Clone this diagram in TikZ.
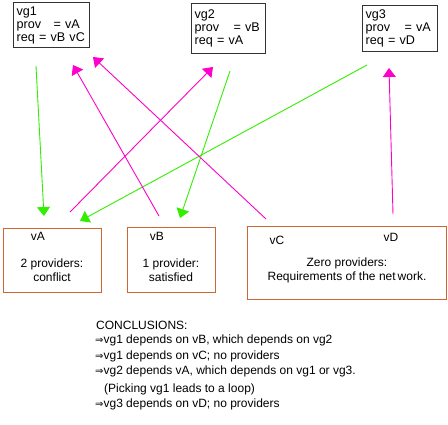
\documentclass[tikz,border=0pt]{standalone}
\usepackage{fontspec}
\setmainfont{Liberation Sans}
\newfontfamily\arrowfont{DejaVu Sans}
\usetikzlibrary{arrows.meta}
\definecolor{ProvGreen}{HTML}{33EE00}
\definecolor{ReqPink}{HTML}{FF00CC}
\definecolor{NetOrange}{HTML}{CC6633}
\newcommand{\dep}{{\arrowfont\fontsize{10}{12}\selectfont ⇒}}

\begin{document}
\begin{tikzpicture}[x=1pt, y=-1pt, >={Triangle[length=9pt, width=13pt]},
  font=\fontsize{12}{13}\selectfont,
  groupbox/.style={draw=black!80, line width=1.2pt, anchor=north west,
    align=left, inner xsep=3pt, inner ysep=0pt, font=\fontsize{12.6}{13}\selectfont},
  varbox/.style={draw=NetOrange, line width=1.1pt, anchor=north west, inner sep=0pt},
  boxtext/.style={align=center, font=\fontsize{12}{14}\selectfont, inner sep=0pt},
  note/.style={anchor=west, inner sep=0pt},
  provides/.style={->, ProvGreen, line width=0.9pt},
  requires/.style={->, ReqPink, line width=0.9pt}]
  \fill[white] (0,0) rectangle (448,424);
  \useasboundingbox (0,0) rectangle (448,424);
  % Virtual groups
  \node[groupbox, text width=70pt, minimum height=45pt] (vg1) at (13,2)
    {vg1\\\makebox[37pt][l]{prov}= vA\\\mbox{req = vB vC}};
  \node[groupbox, text width=68pt, minimum height=50pt] (vg2) at (191,3)
    {vg2\\\makebox[39pt][l]{prov}= vB\\req = vA};
  \node[groupbox, text width=69pt, minimum height=46pt] (vg3) at (362,5)
    {vg3\\\makebox[39pt][l]{prov}= vA\\req = vD};
  % Variables
  \node[varbox, minimum width=98pt, minimum height=64pt] (boxA) at (3,228) {};
  \node[varbox, minimum width=88pt, minimum height=65pt] (boxB) at (127,227) {};
  \node[varbox, minimum width=199pt, minimum height=73pt] (boxCD) at (247,226) {};
  \node (vA) at (38,236) {vA};
  \node (vB) at (157,236) {vB};
  \node (vC) at (277,240) {vC};
  \node (vD) at (391,237) {vD};
  \node[boxtext] (stateA) at (52,270) {2 providers:\\conflict};
  \node[boxtext] (stateB) at (171,270) {1 provider:\\satisfied};
  \node[boxtext] (stateCD) at (347,270) {Zero providers:\\Requirements of the net\,work.};
  % Arrow ends
  \coordinate (vg1-out) at (36,66);   \coordinate (vA-in1) at (44,216);
  \coordinate (vA-out) at (70,212);   \coordinate (vg2-in) at (213,67);
  \coordinate (vB-out) at (159,216);  \coordinate (vg1-in1) at (73,65);
  \coordinate (vC-out) at (266,219);  \coordinate (vg1-in2) at (93,57);
  \coordinate (vg2-out) at (230,71);  \coordinate (vB-in) at (180,218);
  \coordinate (vg3-out) at (367,65);  \coordinate (vA-in2) at (80,221);
  \coordinate (vD-out) at (393,214);  \coordinate (vg3-in) at (389,68);
  % Providers (green) and requirements (pink)
  \draw[provides] (vg1-out) -- (vA-in1);
  \draw[provides] (vg2-out) -- (vB-in);
  \draw[provides] (vg3-out) -- (vA-in2);
  \draw[requires] (vA-out) -- (vg2-in);
  \draw[requires] (vB-out) -- (vg1-in1);
  \draw[requires] (vC-out) -- (vg1-in2);
  \draw[requires] (vD-out) -- (vg3-in);
  % Conclusions
  \node[note] (concl) at (96,325) {CONCLUSIONS:};
  \node[note] (c1) at (95,340) {\dep vg1 depends on vB, which depends on vg2};
  \node[note] (c2) at (95,356) {\dep vg1 depends on vC; no providers};
  \node[note] (c3) at (95,371) {\dep vg2 depends vA, which depends on vg1 or vg3.};
  \node[note] (c3b) at (104,389) {(Picking vg1 leads to a loop)};
  \node[note] (c4) at (95,404) {\dep vg3 depends on vD; no providers};
\end{tikzpicture}
\end{document}
